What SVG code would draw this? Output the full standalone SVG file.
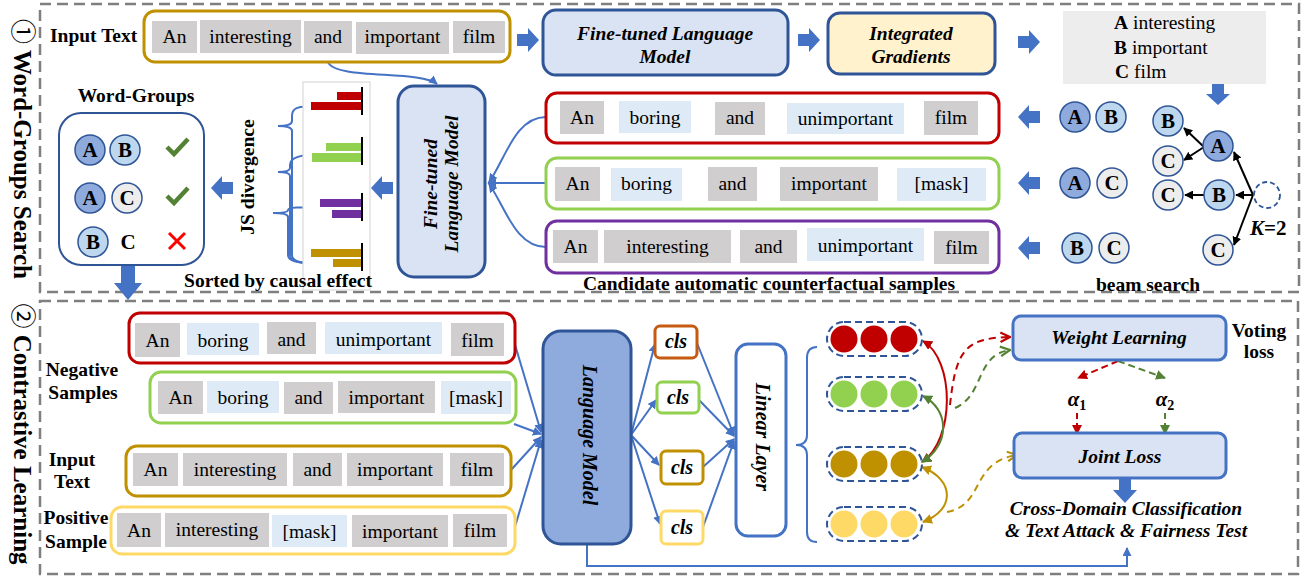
<svg xmlns="http://www.w3.org/2000/svg" width="1309" height="578" viewBox="0 0 1309 578">
<defs>
<style>
.t{font-family:"Liberation Serif","Times New Roman",Times,serif;font-size:19.5px;fill:#000;text-anchor:middle}
.b{font-weight:bold}
.i{font-style:italic}
.g{fill:#D0CECE}
.l{fill:#DEEBF7}
.cA{fill:#8FAADC;stroke:#2F5597;stroke-width:1.5}
.cB{fill:#BDD7EE;stroke:#2F5597;stroke-width:1.5}
.cC{fill:#EDEDED;stroke:#2F5597;stroke-width:1.5}
.ct{font-family:"Liberation Serif","Times New Roman",serif;font-size:21px;font-weight:bold;text-anchor:middle}
.blk{fill:#4472C4}
.con{fill:none;stroke:#4472C4;stroke-width:2}
.kk{fill:none;stroke:#000;stroke-width:2}
.sec{fill:none;stroke:#7F7F7F;stroke-width:2.5;stroke-dasharray:11 6}
.pill{fill:none;stroke:#2F5597;stroke-width:2;stroke-dasharray:7 4}
.num{font-family:"Noto Sans CJK SC","DejaVu Sans",sans-serif;font-weight:normal}
</style>
<marker id="mB" viewBox="0 0 10 10" refX="9" refY="5" markerWidth="9" markerHeight="9" markerUnits="userSpaceOnUse" orient="auto"><path d="M0,0 L10,5 L0,10 z" fill="#4472C4"/></marker>
<marker id="mK" viewBox="0 0 10 10" refX="9" refY="5" markerWidth="9" markerHeight="9" markerUnits="userSpaceOnUse" orient="auto"><path d="M0,0 L10,5 L0,10 z" fill="#000"/></marker>
<marker id="mR" viewBox="0 0 10 10" refX="9" refY="5" markerWidth="10" markerHeight="10" markerUnits="userSpaceOnUse" orient="auto-start-reverse"><path d="M0,0 L10,5 L0,10 z" fill="#C00000"/></marker>
<marker id="mG" viewBox="0 0 10 10" refX="9" refY="5" markerWidth="10" markerHeight="10" markerUnits="userSpaceOnUse" orient="auto-start-reverse"><path d="M0,0 L10,5 L0,10 z" fill="#548235"/></marker>
<marker id="mY" viewBox="0 0 10 10" refX="9" refY="5" markerWidth="10" markerHeight="10" markerUnits="userSpaceOnUse" orient="auto-start-reverse"><path d="M0,0 L10,5 L0,10 z" fill="#BF9000"/></marker>
<marker id="vR" viewBox="0 0 10 10" refX="9" refY="5" markerWidth="12" markerHeight="12" markerUnits="userSpaceOnUse" orient="auto"><path d="M1,1 L9,5 L1,9" fill="none" stroke="#C00000" stroke-width="1.8"/></marker>
<marker id="vG" viewBox="0 0 10 10" refX="9" refY="5" markerWidth="12" markerHeight="12" markerUnits="userSpaceOnUse" orient="auto"><path d="M1,1 L9,5 L1,9" fill="none" stroke="#548235" stroke-width="1.8"/></marker>
<marker id="vY" viewBox="0 0 10 10" refX="9" refY="5" markerWidth="12" markerHeight="12" markerUnits="userSpaceOnUse" orient="auto"><path d="M1,1 L9,5 L1,9" fill="none" stroke="#BF9000" stroke-width="1.8"/></marker>
<path id="ba" d="M-22,-6 L-11,-6 L-11,-12 L0,0 L-11,12 L-11,6 L-22,6 Z"/>
</defs>
<rect width="1309" height="578" fill="#fff"/>

<!-- section frames -->
<g id="sections">
<rect class="sec" x="40" y="4" width="1259" height="288"/>
<rect class="sec" x="40" y="301" width="1258" height="273"/>
<text class="t b" style="font-size:25px" transform="translate(14,149) rotate(90)"><tspan class="num">①</tspan> Word-Groups Search</text>
<text class="t b" style="font-size:25px" transform="translate(14,434) rotate(90)"><tspan class="num">②</tspan> Contrastive Learning</text>
</g>

<!-- connectors -->
<g id="connectors">
<use href="#ba" class="blk" x="539" y="40"/>
<use href="#ba" class="blk" x="820" y="40"/>
<use href="#ba" class="blk" x="1040" y="42"/>
<use href="#ba" class="blk" transform="translate(1218,105) rotate(90)"/>
<use href="#ba" class="blk" transform="translate(1018,117) rotate(180)"/>
<use href="#ba" class="blk" transform="translate(1018,183) rotate(180)"/>
<use href="#ba" class="blk" transform="translate(1018,248) rotate(180)"/>
<use href="#ba" class="blk" transform="translate(371,188) rotate(180)"/>
<use href="#ba" class="blk" transform="translate(211,188) rotate(180)"/>
<path class="blk" d="M121,264 L135,264 L135,283 L142,283 L128,300 L114,283 L121,283 Z"/>
<path class="blk" d="M1119,478 L1131,478 L1131,490 L1137,490 L1125,503 L1113,490 L1119,490 Z"/>
<path class="con" d="M328,62 C335,80 420,70 437,84" marker-end="url(#mB)"/>
<path class="con" d="M546,117 C515,117 505,160 489,182" marker-end="url(#mB)"/>
<path class="con" d="M546,183 L488,183" marker-end="url(#mB)"/>
<path class="con" d="M546,247 C515,247 505,206 489,184" marker-end="url(#mB)"/>
<!-- braces -->
<path class="con" d="M311,107 C298,106 292,108 292,116 L292,121 Q292,126 278,126 Q292,126 292,131 L292,255 Q292,263 311,263"/>
<path class="con" d="M312,155 C300,155 290,158 290,165 L290,168 Q290,172 278,172 Q290,172 290,176 L290,255 Q290,263 311,263"/>
<path class="con" d="M319,208 C300,207 288,207 288,210 Q288,213 273,213 Q288,213 288,217 L288,255 Q288,263 311,263"/>
<!-- tree -->
<line class="kk" x1="1253" y1="195" x2="1234" y2="152" marker-end="url(#mK)"/>
<line class="kk" x1="1253" y1="195" x2="1236" y2="195" marker-end="url(#mK)"/>
<line class="kk" x1="1253" y1="195" x2="1234" y2="245" marker-end="url(#mK)"/>
<line class="kk" x1="1204" y1="147" x2="1184" y2="128" marker-end="url(#mK)"/>
<line class="kk" x1="1204" y1="147" x2="1184" y2="160" marker-end="url(#mK)"/>
<line class="kk" x1="1204" y1="195" x2="1185" y2="195" marker-end="url(#mK)"/>
<!-- bottom -->
<line class="con" x1="513" y1="338" x2="541" y2="432" marker-end="url(#mB)"/>
<line class="con" x1="514" y1="424" x2="541" y2="434" marker-end="url(#mB)"/>
<line class="con" x1="511" y1="470" x2="541" y2="437" marker-end="url(#mB)"/>
<line class="con" x1="514" y1="530" x2="541" y2="440" marker-end="url(#mB)"/>
<line class="con" x1="631" y1="435" x2="655" y2="344" marker-end="url(#mB)"/>
<line class="con" x1="631" y1="435" x2="656" y2="400" marker-end="url(#mB)"/>
<line class="con" x1="631" y1="435" x2="659" y2="465" marker-end="url(#mB)"/>
<line class="con" x1="631" y1="435" x2="660" y2="524" marker-end="url(#mB)"/>
<line class="con" x1="697" y1="343" x2="734" y2="435" marker-end="url(#mB)"/>
<line class="con" x1="699" y1="400" x2="734" y2="436" marker-end="url(#mB)"/>
<line class="con" x1="703" y1="467" x2="734" y2="439" marker-end="url(#mB)"/>
<line class="con" x1="703" y1="527" x2="734" y2="441" marker-end="url(#mB)"/>
<path class="con" d="M817,347 Q807,347 807,358 L807,435 Q807,445 796,445 Q807,445 807,455 L807,532 Q807,542 817,542"/>
<path class="con" d="M587,544 L587,566 L1127,566 L1127,548" marker-end="url(#mB)"/>
<path d="M922,462 C955,440 955,360 923,341" fill="none" stroke="#C00000" stroke-width="2" marker-start="url(#mR)" marker-end="url(#mR)"/>
<path d="M922,462 C950,445 950,410 923,396" fill="none" stroke="#548235" stroke-width="2" marker-start="url(#mG)" marker-end="url(#mG)"/>
<path d="M922,467 C955,480 955,510 923,522" fill="none" stroke="#BF9000" stroke-width="2" marker-start="url(#mY)" marker-end="url(#mY)"/>
<path d="M950,405 C956,350 965,338 1010,337" fill="none" stroke="#C00000" stroke-width="2" stroke-dasharray="7 5" marker-end="url(#vR)"/>
<path d="M955,408 C985,395 975,355 1010,350" fill="none" stroke="#548235" stroke-width="2" stroke-dasharray="7 5" marker-end="url(#vG)"/>
<path d="M947,512 C985,505 970,462 1017,455" fill="none" stroke="#BF9000" stroke-width="2" stroke-dasharray="7 5" marker-end="url(#vY)"/>
<line x1="1118" y1="361" x2="1078" y2="378" stroke="#C00000" stroke-width="2" stroke-dasharray="7 4" marker-end="url(#mR)"/>
<line x1="1118" y1="361" x2="1165" y2="378" stroke="#548235" stroke-width="2" stroke-dasharray="7 4" marker-end="url(#mG)"/>
<line x1="1077" y1="413" x2="1077" y2="434" stroke="#C00000" stroke-width="2" stroke-dasharray="6 4" marker-end="url(#mR)"/>
<line x1="1165" y1="413" x2="1165" y2="434" stroke="#548235" stroke-width="2" stroke-dasharray="6 4" marker-end="url(#mG)"/>
</g>

<!-- Input text top -->
<g id="input-text">
<text class="t b" x="50" y="42" style="text-anchor:start">Input Text</text>
<rect x="144" y="11" width="366" height="51" rx="11" fill="#fff" stroke="#BF9000" stroke-width="3"/>
<rect class="g" x="152" y="21" width="45" height="32"/><text class="t" x="174.5" y="43">An</text>
<rect class="g" x="200" y="20" width="101" height="33"/><text class="t" x="250.5" y="43">interesting</text>
<rect class="g" x="304" y="21" width="48" height="32"/><text class="t" x="328" y="43">and</text>
<rect class="g" x="356" y="22" width="93" height="32"/><text class="t" x="402.5" y="43">important</text>
<rect class="g" x="453" y="21" width="52" height="32"/><text class="t" x="479" y="43">film</text>
</g>

<g id="ft-lm-top">
<rect x="543" y="10" width="245" height="65" rx="13" fill="#DAE3F3" stroke="#2F5597" stroke-width="3"/>
<text class="t b i" x="665" y="40">Fine-tuned Language</text>
<text class="t b i" x="665" y="63">Model</text>
</g>

<g id="integrated-gradients">
<rect x="828" y="13" width="167" height="61" rx="12" fill="#FFF2CC" stroke="#2F5597" stroke-width="3"/>
<text class="t b i" x="911" y="40">Integrated</text>
<text class="t b i" x="911" y="63">Gradients</text>
</g>

<g id="attribution-list">
<rect x="1063" y="11" width="203" height="73" fill="#EDEDED"/>
<text class="t" x="1114" y="29" style="text-anchor:start"><tspan font-weight="bold">A</tspan> interesting</text>
<text class="t" x="1114" y="54" style="text-anchor:start"><tspan font-weight="bold">B</tspan> important</text>
<text class="t" x="1115" y="78" style="text-anchor:start"><tspan font-weight="bold">C</tspan> film</text>
</g>

<g id="beam-search">
<circle class="cB" cx="1168" cy="121" r="15"/><text class="ct" x="1168" y="128">B</text>
<circle class="cA" cx="1218" cy="146" r="15"/><text class="ct" x="1218" y="153">A</text>
<circle class="cC" cx="1168" cy="161" r="15"/><text class="ct" x="1168" y="168">C</text>
<circle class="cC" cx="1168" cy="195" r="15"/><text class="ct" x="1168" y="202">C</text>
<circle class="cB" cx="1219" cy="195" r="15"/><text class="ct" x="1219" y="202">B</text>
<circle class="cC" cx="1218" cy="250" r="15"/><text class="ct" x="1218" y="257">C</text>
<circle cx="1267" cy="195" r="13" fill="none" stroke="#2F5597" stroke-width="1.8" stroke-dasharray="5 3"/>
<text class="t b" x="1250" y="235" style="text-anchor:start;font-size:21px"><tspan font-style="italic">K</tspan>=2</text>
<text class="t b" x="1148" y="291">beam search</text>
</g>

<g id="candidate-groups">
<circle class="cA" cx="1075" cy="117" r="15"/><text class="ct" x="1075" y="124">A</text>
<circle class="cB" cx="1111" cy="117" r="15"/><text class="ct" x="1111" y="124">B</text>
<circle class="cA" cx="1075" cy="183" r="15"/><text class="ct" x="1075" y="190">A</text>
<circle class="cC" cx="1112" cy="183" r="15"/><text class="ct" x="1112" y="190">C</text>
<circle class="cB" cx="1077" cy="248" r="15"/><text class="ct" x="1077" y="255">B</text>
<circle class="cC" cx="1114" cy="248" r="15"/><text class="ct" x="1114" y="255">C</text>
</g>

<g id="cf-red">
<rect x="546" y="93" width="453" height="50" rx="11" fill="#fff" stroke="#C00000" stroke-width="3"/>
<rect class="g" x="560" y="101" width="44" height="33"/><text class="t" x="582" y="124">An</text>
<rect class="l" x="619" y="101" width="72" height="32"/><text class="t" x="655" y="124">boring</text>
<rect class="g" x="715" y="102" width="50" height="33"/><text class="t" x="740" y="124">and</text>
<rect class="l" x="787" y="103" width="117" height="31"/><text class="t" x="845.5" y="125">unimportant</text>
<rect class="g" x="924" y="101" width="54" height="34"/><text class="t" x="951" y="124">film</text>
</g>
<g id="cf-green">
<rect x="546" y="158" width="453" height="51" rx="11" fill="#fff" stroke="#92D050" stroke-width="3"/>
<rect class="g" x="555" y="167" width="45" height="34"/><text class="t" x="577.5" y="190">An</text>
<rect class="l" x="611" y="168" width="71" height="33"/><text class="t" x="646.5" y="190">boring</text>
<rect class="g" x="708" y="167" width="49" height="34"/><text class="t" x="732.5" y="190">and</text>
<rect class="g" x="780" y="167" width="98" height="34"/><text class="t" x="829" y="190">important</text>
<rect class="l" x="897" y="168" width="89" height="33"/><text class="t" x="941.5" y="190">[mask]</text>
</g>
<g id="cf-purple">
<rect x="546" y="221" width="453" height="52" rx="11" fill="#fff" stroke="#7030A0" stroke-width="3"/>
<rect class="g" x="553" y="230" width="45" height="33"/><text class="t" x="575.5" y="253">An</text>
<rect class="g" x="604" y="230" width="127" height="33"/><text class="t" x="667.5" y="253">interesting</text>
<rect class="g" x="740" y="230" width="57" height="33"/><text class="t" x="768.5" y="253">and</text>
<rect class="l" x="807" y="228" width="117" height="33"/><text class="t" x="865.5" y="252">unimportant</text>
<rect class="g" x="934" y="231" width="55" height="33"/><text class="t" x="961.5" y="254">film</text>
<text class="t b" x="769" y="290">Candidate automatic counterfactual samples</text>
</g>

<g id="ft-lm-vertical">
<rect x="398" y="86" width="87" height="191" rx="16" fill="#DAE3F3" stroke="#2F5597" stroke-width="3"/>
<text class="t b i" transform="translate(437,184) rotate(-90)">Fine-tuned</text>
<text class="t b i" transform="translate(458,184) rotate(-90)">Language Model</text>
</g>

<g id="js-chart">
<rect x="303" y="82" width="67" height="208" fill="#fff" stroke="#D9D9D9" stroke-width="1.2"/>
<rect x="337" y="92" width="24" height="8" fill="#C00000"/>
<rect x="311" y="102" width="50" height="8" fill="#C00000"/>
<line x1="362" y1="87" x2="362" y2="115" stroke="#000" stroke-width="2"/>
<rect x="326" y="143" width="35" height="8" fill="#92D050"/>
<rect x="312" y="153" width="49" height="9" fill="#92D050"/>
<line x1="362" y1="137" x2="362" y2="165" stroke="#000" stroke-width="2"/>
<rect x="320" y="199" width="41" height="8" fill="#7030A0"/>
<rect x="332" y="210" width="29" height="8" fill="#7030A0"/>
<line x1="362" y1="193" x2="362" y2="221" stroke="#000" stroke-width="2"/>
<rect x="311" y="249" width="50" height="8" fill="#BF9000"/>
<rect x="333" y="259" width="28" height="8" fill="#BF9000"/>
<line x1="362" y1="243" x2="362" y2="271" stroke="#000" stroke-width="2"/>
<text class="t b" transform="translate(254,177) rotate(-90)">JS divergence</text>
<text class="t b" x="278" y="287">Sorted by causal effect</text>
</g>

<g id="word-groups">
<text class="t b" x="136" y="102">Word-Groups</text>
<rect x="59" y="113" width="145" height="152" rx="22" fill="#fff" stroke="#2F5597" stroke-width="2"/>
<circle class="cA" cx="90" cy="150" r="15"/><text class="ct" x="90" y="157">A</text>
<circle class="cB" cx="125" cy="150" r="15"/><text class="ct" x="125" y="157">B</text>
<polyline points="167,147 174,154 188,139" fill="none" stroke="#548235" stroke-width="4.5"/>
<circle class="cA" cx="90" cy="198" r="15"/><text class="ct" x="90" y="205">A</text>
<circle class="cC" cx="127" cy="198" r="15"/><text class="ct" x="127" y="205">C</text>
<polyline points="167,196 174,203 188,188" fill="none" stroke="#548235" stroke-width="4.5"/>
<circle class="cB" cx="93" cy="242" r="15"/><text class="ct" x="93" y="249">B</text>
<text class="ct" x="128" y="249">C</text>
<path d="M169,233 L185,249 M185,233 L169,249" stroke="#FF0000" stroke-width="3"/>
</g>

<!-- bottom section -->
<g id="negative-samples">
<text class="t b" x="82" y="376">Negative</text>
<text class="t b" x="83" y="399">Samples</text>
<rect x="129" y="313" width="386" height="50" rx="11" fill="#fff" stroke="#C00000" stroke-width="3"/>
<rect class="g" x="135" y="323" width="45" height="34"/><text class="t" x="157.5" y="347">An</text>
<rect class="l" x="187" y="323" width="72" height="32"/><text class="t" x="223" y="347">boring</text>
<rect class="g" x="267" y="322" width="49" height="32"/><text class="t" x="291.5" y="346">and</text>
<rect class="l" x="325" y="322" width="117" height="32"/><text class="t" x="383.5" y="346">unimportant</text>
<rect class="g" x="451" y="323" width="53" height="33"/><text class="t" x="477.5" y="347">film</text>
<rect x="150" y="372" width="366" height="51" rx="11" fill="#fff" stroke="#92D050" stroke-width="3"/>
<rect class="g" x="158" y="381" width="45" height="33"/><text class="t" x="180.5" y="404">An</text>
<rect class="l" x="207" y="381" width="72" height="32"/><text class="t" x="243" y="404">boring</text>
<rect class="g" x="284" y="382" width="49" height="32"/><text class="t" x="308.5" y="404">and</text>
<rect class="g" x="338" y="381" width="97" height="32"/><text class="t" x="386.5" y="404">important</text>
<rect class="l" x="441" y="381" width="70" height="33"/><text class="t" x="476" y="404">[mask]</text>
</g>
<g id="input-sample">
<text class="t b" x="72" y="466">Input</text>
<text class="t b" x="72" y="488">Text</text>
<rect x="126" y="446" width="385" height="50" rx="11" fill="#fff" stroke="#BF9000" stroke-width="3"/>
<rect class="g" x="133" y="453" width="45" height="33"/><text class="t" x="155.5" y="476">An</text>
<rect class="g" x="183" y="453" width="104" height="33"/><text class="t" x="235" y="476">interesting</text>
<rect class="g" x="293" y="453" width="49" height="33"/><text class="t" x="317.5" y="476">and</text>
<rect class="g" x="347" y="453" width="96" height="33"/><text class="t" x="395" y="476">important</text>
<rect class="g" x="450" y="453" width="54" height="33"/><text class="t" x="477" y="476">film</text>
</g>
<g id="positive-sample">
<text class="t b" x="76" y="524">Positive</text>
<text class="t b" x="76" y="548">Sample</text>
<rect x="111" y="507" width="404" height="47" rx="11" fill="#fff" stroke="#FFD966" stroke-width="3"/>
<rect class="g" x="117" y="513" width="44" height="34"/><text class="t" x="139" y="537">An</text>
<rect class="g" x="165" y="513" width="104" height="34"/><text class="t" x="217" y="536">interesting</text>
<rect class="l" x="272" y="515" width="75" height="32"/><text class="t" x="309.5" y="538">[mask]</text>
<rect class="g" x="352" y="515" width="96" height="32"/><text class="t" x="400" y="538">important</text>
<rect class="g" x="453" y="514" width="54" height="33"/><text class="t" x="480" y="537">film</text>
</g>

<g id="language-model">
<rect x="543" y="331" width="88" height="213" rx="18" fill="#8FAADC" stroke="#2F5597" stroke-width="3"/>
<text class="t b i" style="font-size:20px" transform="translate(583,435) rotate(90)">Language Model</text>
</g>

<g id="cls">
<rect x="655" y="326" width="42" height="32" rx="5" fill="#fff" stroke="#C55A11" stroke-width="3"/><text class="t b i" style="font-size:20px" x="676" y="348">cls</text>
<rect x="657" y="382" width="42" height="31" rx="5" fill="#fff" stroke="#92D050" stroke-width="3"/><text class="t b i" style="font-size:20px" x="678" y="404">cls</text>
<rect x="661" y="451" width="42" height="33" rx="5" fill="#fff" stroke="#BF9000" stroke-width="3"/><text class="t b i" style="font-size:20px" x="682" y="474">cls</text>
<rect x="661" y="511" width="42" height="33" rx="5" fill="#fff" stroke="#FFD966" stroke-width="3"/><text class="t b i" style="font-size:20px" x="682" y="534">cls</text>
</g>

<g id="linear-layer">
<rect x="736" y="344" width="50" height="192" rx="12" fill="#fff" stroke="#4472C4" stroke-width="3"/>
<text class="t b i" style="font-size:20px" transform="translate(756,437) rotate(90)">Linear Layer</text>
</g>

<g id="logits">
<rect class="pill" x="827" y="322" width="95" height="34" rx="17"/>
<circle cx="844" cy="339" r="13.5" fill="#C00000"/><circle cx="874" cy="339" r="13.5" fill="#C00000"/><circle cx="904" cy="339" r="13.5" fill="#C00000"/>
<rect class="pill" x="827" y="377" width="95" height="34" rx="17"/>
<circle cx="844" cy="394" r="13.5" fill="#92D050"/><circle cx="874" cy="394" r="13.5" fill="#92D050"/><circle cx="904" cy="394" r="13.5" fill="#92D050"/>
<rect class="pill" x="827" y="447" width="95" height="34" rx="17"/>
<circle cx="844" cy="464" r="13.5" fill="#BF9000"/><circle cx="874" cy="464" r="13.5" fill="#BF9000"/><circle cx="904" cy="464" r="13.5" fill="#BF9000"/>
<rect class="pill" x="827" y="507" width="95" height="34" rx="17"/>
<circle cx="844" cy="524" r="13.5" fill="#FFD966"/><circle cx="874" cy="524" r="13.5" fill="#FFD966"/><circle cx="904" cy="524" r="13.5" fill="#FFD966"/>
</g>

<g id="weight-learning">
<rect x="1013" y="316" width="213" height="44" rx="8" fill="#DAE3F3" stroke="#4472C4" stroke-width="3"/>
<text class="t b i" x="1119" y="344">Weight Learning</text>
<text class="t b" x="1259" y="337">Voting</text>
<text class="t b" x="1259" y="358">loss</text>
<text class="t b i" x="1077" y="406" style="font-size:21px">α<tspan font-size="14" font-style="normal" dy="4">1</tspan></text>
<text class="t b i" x="1165" y="406" style="font-size:21px">α<tspan font-size="14" font-style="normal" dy="4">2</tspan></text>
</g>

<g id="joint-loss">
<rect x="1014" y="433" width="212" height="45" rx="8" fill="#DAE3F3" stroke="#4472C4" stroke-width="3"/>
<text class="t b i" x="1120" y="463">Joint Loss</text>
<text class="t b i" x="1126" y="515">Cross-Domain Classification</text>
<text class="t b i" x="1126" y="537">&amp; Text Attack &amp; Fairness Test</text>
</g>
</svg>
